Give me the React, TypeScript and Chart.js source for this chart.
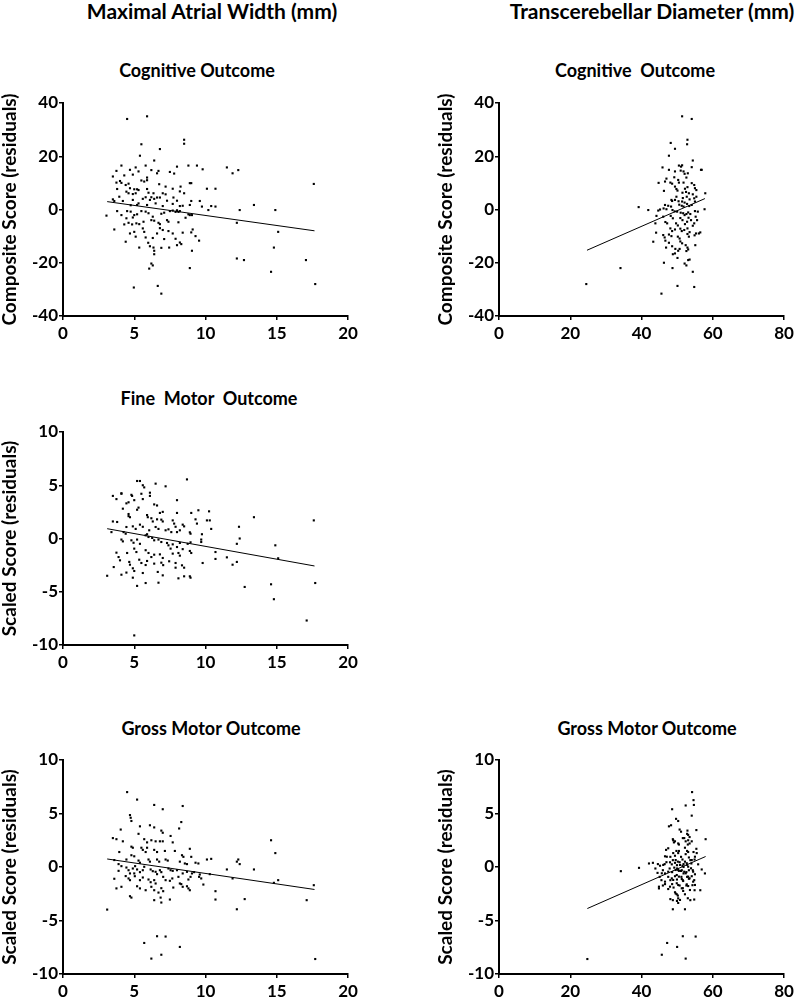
import React, { useEffect, useRef } from 'react';
import { Chart, registerables } from 'chart.js';

Chart.register(...registerables);

type Pt = [number, number];

// ---------- DATA ----------
const cognitiveVsAtrial: Pt[] = [
  [4.5,34],[5.9,35],[8.5,26.2],[8.5,24.7],[5.5,24.5],[6.8,22.7],[5.4,20.2],[6.4,18.4],[4.1,16.5],[5.1,15.8],[5.8,16.5],[8.0,16.1],[8.8,16.5],[9.4,16.5],[11.5,15.8],[11.9,13.6],[12.3,14.8],[9.8,15.1],[3.75,14.5],[4.7,14.9],[5.3,14.3],[6.2,14.8],[6.7,14.5],[7.5,14.1],[7.8,13.5],[3.5,12.4],[4.3,12.8],[4.9,13.1],[5.5,10.9],[5.7,10.5],[5.9,11],[5.9,12],[6.6,13.6],[4.0,10.7],[4.1,10],[4.6,9.7],[3.75,10.1],[4.4,9.2],[4.7,8],[5.0,7.6],[5.2,7.6],[6.75,9.5],[7.2,8.6],[7.7,7.8],[8.25,8.6],[8.9,9.9],[9.0,9.9],[10.1,7.8],[10.7,7.8],[3.8,7.7],[4.45,6.7],[4.6,6.1],[4.9,5.8],[5.1,6.1],[5.3,7.3],[5.9,7.7],[6.35,6.1],[7.0,6.1],[6.0,6.3],[6.6,4.5],[6.8,4.5],[7.2,5.7],[8.2,6.8],[8.5,6.1],[5.8,4.6],[3.95,4.8],[6.2,4.6],[7.3,3.3],[7.75,4.5],[3.5,3.8],[3.6,3.2],[4.2,3.2],[4.9,3.6],[5.6,4.0],[6.1,3.6],[6.4,4.0],[8.0,3.3],[9.0,3.2],[9.6,3.2],[10.7,1.1],[10.4,1.3],[13.4,1.7],[4.75,1.6],[5.2,1.7],[5.3,2.3],[5.9,1.7],[6.5,2.3],[7.0,1.3],[7.7,2.1],[8.2,1.3],[8.4,1.4],[8.9,1.7],[9.75,1.1],[10.2,-0.2],[12.4,-0.2],[14.9,-0.2],[3.05,-2.3],[3.8,-0.6],[4.5,-0.6],[4.75,-0.8],[5.0,-2.1],[5.2,-1.8],[4.9,-3],[5.5,-0.6],[5.8,-0.8],[6.0,-1.4],[6.3,-2.7],[6.9,-1.6],[7.1,-1.2],[7.5,-0.6],[7.7,-0.4],[7.9,-0.9],[8.0,-0.3],[8.1,-0.9],[8.2,-0.6],[8.8,-1.8],[8.9,-2.1],[9.05,-2.1],[4.45,-3.3],[4.1,-2.1],[3.6,-7.5],[4.3,-5.6],[4.6,-5],[4.85,-5.6],[5.15,-5.2],[5.35,-5.5],[5.65,-4.6],[6.2,-4],[6.4,-4.2],[6.7,-5],[6.8,-5.5],[7.3,-4],[7.4,-4.6],[8.1,-4.8],[8.6,-3.1],[12.2,-5],[4.7,-9],[5.0,-8.4],[5.6,-7.1],[5.7,-8.4],[6.6,-9],[6.8,-7],[7.0,-7.7],[7.4,-8.1],[7.7,-9],[8.4,-8.7],[9.1,-7.5],[9.0,-8.6],[15.1,-8.4],[5.1,-10.2],[5.8,-10.5],[6.3,-10.7],[7.1,-11.1],[7.9,-11],[8.2,-12.4],[8.3,-13],[8.0,-13.4],[9.3,-10],[4.4,-12.1],[5.35,-14.3],[5.98,-12.5],[6.1,-13.8],[6.35,-14.3],[6.9,-14.4],[7.45,-14.3],[9.55,-11.7],[6.4,-15.5],[6.4,-16.8],[9.05,-15.5],[14.8,-14.3],[6.2,-20.3],[6.3,-21],[6.05,-22.2],[8.9,-22],[12.2,-18.4],[12.7,-19],[17.05,-19],[14.6,-23.4],[4.97,-29.3],[6.65,-28.7],[6.9,-31.6],[17.7,-28],[17.6,9.6],
];
const cognitiveAtrialFit: Pt[] = [[3.1, 2.96], [17.65, -8.0]];

const cognitiveVsTcd: Pt[] = [
  [51.4,35],[54.1,34],[52.9,26.2],[52.8,24.5],[48.2,25],[49.4,22.8],[47.7,20.2],[54.4,18.4],[45.9,15.8],[50.5,16.5],[51.1,16.1],[51.4,16.6],[54.1,15.9],[56.7,14.9],[47.7,14.9],[49.4,14.3],[51,14.6],[51.8,14.3],[52.1,13.4],[53,13.6],[52.6,12],[49.2,12.1],[47,11.6],[46.6,10.5],[50.3,11.1],[50.5,10.1],[44.8,10],[48.1,10.1],[48.6,9.7],[51.8,10.1],[54.1,9.9],[54.8,9.2],[49.4,8.6],[49.8,7.7],[50.1,7.1],[46.3,7],[52.2,7.8],[52.9,8.4],[55,8],[55.4,7.3],[51.5,6.3],[52.5,6.6],[53.3,6.1],[54.4,5.7],[57.9,6.1],[49.8,4.8],[49.4,3.6],[50.4,3.1],[51.6,4.3],[52.7,4.8],[53.5,3.8],[54.8,4.2],[55.4,4.8],[48.4,3.6],[48.6,3.2],[51.4,3],[52.1,2.6],[55,3],[46.6,1.7],[47.5,1.4],[48.3,1.1],[50.6,1.8],[51.3,1.4],[51.8,1.1],[52.8,2.1],[53.4,1.3],[54.1,1.7],[39.2,0.9],[41.9,-0.2],[44.7,-0.4],[45.2,0],[46.2,0.4],[47,0.1],[48.7,-0.2],[49.3,-0.7],[50,-0.8],[51,-1.2],[51.7,-1.4],[52.1,-2.1],[52.6,-1.7],[53.1,-1.1],[53.7,-1.7],[55,-0.6],[55.8,-0.8],[57.7,0.1],[44.2,-2.4],[46.1,-2.7],[48.2,-2.4],[48.8,-3.3],[50.9,-3.2],[51.5,-4],[53.2,-3.1],[53.9,-4],[55.2,-2.7],[55.6,-4],[43.9,-5.2],[46.7,-4.7],[47.2,-5.2],[49.7,-5.2],[50.2,-6],[52.2,-5.5],[52.8,-4.6],[54.4,-6.1],[54.8,-5.2],[49.4,-7.5],[48.6,-8.1],[48.1,-7.1],[50.9,-7.2],[51.3,-8.1],[52,-7.7],[52.9,-7.1],[53.5,-8.5],[56.5,-8.6],[56.1,-9],[44.1,-8.7],[46.1,-9.6],[46.5,-10.5],[47.7,-9.4],[48.4,-10],[50.2,-10.2],[50.7,-10.9],[52.9,-9.2],[53.3,-10.2],[54.9,-9.7],[55.3,-9],[43.3,-12.1],[46.7,-11.7],[47.7,-12.5],[50.9,-12],[51.4,-12.7],[52.4,-13.4],[52.9,-14.3],[55.1,-13.4],[46.9,-14.3],[48.6,-13.8],[49.5,-14.8],[50.3,-15.5],[50.7,-14.8],[53.1,-15],[52.6,-15.6],[48.8,-16.8],[49.4,-16.5],[50.1,-18.2],[53.1,-19],[53.5,-18.8],[52.1,-20.3],[52.6,-21],[46.3,-20],[48.7,-22],[34.1,-22],[54.4,-23.4],[50.1,-28.7],[54.8,-29.1],[24.5,-28],[45.6,-31.6],[56.9,14.9],
];
const cognitiveTcdFit: Pt[] = [[24.7, -15.3], [57.8, 4.1]];

const fineMotorVsAtrial: Pt[] = [
  [8.7,5.55],[5.4,5.4],[5.2,5.4],[5.6,5.0],[5.7,4.8],[6.5,5.15],[7.2,4.9],[3.5,4.0],[4.1,4.2],[4.1,4.25],[4.8,4.1],[4.85,4.0],[5.5,4.2],[5.6,3.7],[6.1,4.3],[6.1,4.0],[3.75,3.7],[5.0,3.6],[6.4,3.2],[6.6,3.1],[4.45,3.3],[4.6,3.4],[8.0,3.6],[4.2,2.8],[5.2,2.7],[5.3,2.9],[7.0,2.5],[6.8,2.4],[10.25,2.55],[9.5,2.65],[9.0,2.4],[13.4,2.0],[4.6,2.3],[4.6,2.1],[4.7,2.0],[5.9,2.2],[5.95,2.0],[6.6,1.8],[6.9,1.77],[7.0,1.6],[7.7,1.7],[8.0,2.4],[6.2,1.9],[6.3,1.6],[7.8,1.4],[7.9,1.1],[8.4,1.3],[8.5,1.14],[9.3,1.8],[9.4,1.4],[10.1,1.7],[10.3,1.7],[10.4,0.9],[12.35,1.1],[17.6,1.7],[3.5,1.6],[3.8,1.55],[4.45,1.08],[4.9,1.14],[5.1,0.9],[5.4,1.3],[5.6,1.1],[6.05,0.77],[6.5,1.08],[6.7,0.9],[7.2,0.77],[7.4,0.86],[7.6,0.6],[8.0,0.6],[8.2,0.77],[8.9,0.58],[8.95,0.45],[9.75,0.4],[3.4,0.6],[4.25,0.6],[4.4,0.45],[4.2,-0.27],[4.1,-0.1],[4.8,-0.17],[4.95,-0.4],[5.2,-0.1],[5.4,-0.5],[5.8,0.3],[5.9,0.4],[6.0,0.14],[6.26,0.05],[6.4,-0.17],[6.7,-0.1],[6.9,-0.33],[7.3,-0.42],[7.4,-0.64],[7.7,-0.55],[8.0,-0.8],[8.2,-0.42],[8.4,-1.0],[8.75,-0.5],[8.95,-0.36],[9.7,-0.33],[9.7,-0.1],[12.2,-0.5],[12.4,0],[14.9,-0.64],[3.75,-1.33],[3.9,-1.74],[4.5,-1.36],[5.0,-0.95],[5.15,-1.27],[5.8,-1.1],[6.0,-1.36],[6.2,-1.74],[6.4,-1.52],[6.8,-1.49],[7.0,-1.83],[7.55,-0.95],[7.7,-1.42],[8.1,-1.36],[8.2,-1.61],[8.9,-1.17],[9.0,-1.36],[10.7,-1.27],[10.7,-1.92],[11.5,-1.77],[15.1,-1.86],[4.0,-2.05],[4.65,-2.2],[4.7,-2.46],[5.35,-1.99],[5.5,-2.3],[5.8,-2.49],[5.9,-2.11],[6.4,-2.36],[6.9,-2.27],[7.03,-2.5],[7.45,-2.14],[7.9,-2.3],[7.9,-2.74],[8.35,-2.52],[8.5,-2.74],[9.8,-2.3],[11.9,-2.46],[12.2,-2.2],[3.56,-2.68],[3.1,-3.5],[4.1,-3.4],[4.45,-3.2],[4.9,-2.8],[5.0,-3.05],[4.9,-3.68],[5.6,-3.24],[6.65,-3.14],[7.0,-3.46],[8.1,-3.74],[8.5,-3.55],[8.9,-3.55],[8.95,-3.68],[5.2,-4.45],[5.8,-4.18],[6.7,-4.15],[12.75,-4.55],[14.6,-4.3],[14.8,-5.7],[17.1,-7.7],[17.7,-4.18],[5.0,-9.1],
];
const fineMotorAtrialFit: Pt[] = [[3.1, 0.92], [17.65, -2.58]];

const grossMotorVsAtrial: Pt[] = [
  [4.5,7.0],[5.2,6.3],[6.4,5.8],[7.0,5.4],[8.4,5.7],[4.7,4.85],[4.75,4.6],[4.8,4.3],[8.3,4.2],[5.4,3.8],[6.1,3.9],[6.4,3.7],[4.05,3.5],[6.9,3.4],[7.0,3.2],[8.15,3.6],[7.55,2.9],[3.5,2.7],[3.75,2.6],[4.2,2.4],[5.3,3.1],[5.7,2.6],[5.9,2.3],[6.2,2.5],[6.5,2.4],[6.8,2.4],[7.0,2.4],[7.7,2.3],[8.9,1.7],[14.6,2.5],[14.9,1.3],[3.95,1.4],[4.8,1.9],[4.9,1.8],[5.5,1.8],[5.6,1.6],[5.9,1.8],[5.8,1.4],[6.4,1.6],[6.6,1.4],[7.15,1.5],[7.85,1.5],[8.35,1.1],[8.45,0.95],[9.0,0.95],[4.8,1.1],[5.0,1.0],[4.45,0.7],[3.6,0.65],[5.3,0.6],[5.4,0.4],[6.0,0.7],[6.1,0.5],[6.6,0.7],[6.75,0.5],[7.2,0.7],[7.35,0.6],[8.2,0.5],[8.55,0.33],[8.7,0.27],[9.3,0.4],[9.5,0.33],[10.1,0.7],[10.4,0.76],[12.2,0.5],[12.4,0.27],[12.3,0.7],[13.4,-0.23],[11.5,-0.23],[3.9,0.27],[4.1,0.08],[3.9,-0.36],[4.45,-0.05],[4.6,-0.3],[4.7,-0.6],[4.9,-0.14],[5.06,0.08],[5.0,-0.6],[5.2,-0.23],[5.4,-0.48],[5.6,-0.3],[5.7,0.02],[6.15,-0.23],[6.3,-0.39],[6.5,-0.45],[6.6,-0.67],[6.8,-0.3],[6.9,-0.48],[7.4,-0.14],[7.55,-0.3],[7.7,-0.36],[8.0,-0.3],[8.4,-0.6],[8.7,-0.45],[9.05,-0.6],[9.2,-0.48],[9.6,-0.7],[9.7,-1.07],[10.3,-0.67],[4.4,-0.85],[4.6,-1.07],[4.7,-1.23],[5.04,-0.86],[5.4,-1.23],[5.6,-0.98],[6.0,-1.17],[6.15,-1.42],[6.4,-1.23],[6.5,-1.54],[7.03,-0.92],[7.2,-1.23],[7.5,-1.29],[7.67,-1.07],[8.1,-0.92],[8.2,-1.54],[8.8,-1.17],[8.95,-0.92],[9.55,-0.92],[11.9,-1.07],[15.1,-1.23],[14.8,-1.48],[17.6,-1.7],[3.6,-1.1],[3.75,-2.0],[4.1,-1.85],[5.2,-1.8],[5.4,-2.0],[5.8,-2.17],[6.2,-1.85],[6.4,-2.17],[6.9,-1.98],[7.03,-2.26],[7.74,-1.92],[8.3,-1.6],[8.4,-1.85],[8.7,-1.8],[8.8,-2.0],[8.9,-2.17],[9.85,-1.64],[10.7,-2.26],[4.7,-2.73],[4.8,-2.86],[6.7,-2.39],[6.85,-2.86],[6.4,-3.1],[6.9,-3.32],[7.5,-3.04],[10.7,-3.04],[12.75,-3.0],[17.1,-3.1],[3.1,-3.98],[12.2,-3.95],[5.7,-7.1],[6.6,-6.47],[7.2,-6.5],[8.2,-7.47],[6.2,-8.56],[6.9,-8.2],[17.7,-8.6],
];
const grossMotorAtrialFit: Pt[] = [[3.1, 0.75], [17.65, -2.1]];

const grossMotorVsTcd: Pt[] = [
  [54.2,7.0],[54.6,6.25],[54.7,5.8],[52.4,5.75],[54.1,4.8],[48.6,5.4],[49.7,4.5],[50.3,4.3],[47.7,3.8],[48.3,3.9],[50.7,3.5],[51.1,3.3],[52.9,3.4],[52.8,3.1],[55.4,3.45],[58,2.6],[48.8,2.6],[49.1,2.3],[51.6,2.7],[52.4,2.4],[53.1,2.5],[53.5,2.2],[50.5,2.1],[46.9,1.6],[49.8,1.5],[50.3,1.3],[52.2,1.8],[52.8,1.5],[54.6,1.4],[55.4,1.7],[55.5,1.3],[46.6,1.0],[48.1,0.95],[48.8,0.64],[51.1,0.95],[51.5,0.7],[53.3,0.89],[53.7,0.64],[54.9,0.7],[42.1,0.33],[43.2,0.39],[44.6,0.27],[46.5,0.27],[47,0.45],[49.4,0.39],[49.95,0.17],[50.7,0.45],[51.8,0.27],[52.8,0.2],[54,0.33],[34.2,-0.39],[39.3,-0.08],[43.9,-0.14],[44.5,-0.55],[46.0,-0.3],[46.6,-0.6],[47.9,-0.14],[48.6,-0.48],[50,-0.14],[50.5,-0.36],[51.3,-0.3],[51.8,-0.6],[52.6,-0.48],[53.3,-0.3],[54.4,-0.3],[56.9,-0.23],[57.8,-0.6],[45.1,-0.92],[45.6,-1.23],[47.5,-0.92],[48.1,-1.23],[49.4,-0.86],[49.95,-1.17],[51.2,-0.92],[51.6,-1.23],[52.8,-0.92],[53.3,-1.1],[54.1,-0.86],[54.8,-1.23],[46.0,-1.73],[46.6,-1.6],[44.9,-2.0],[48.6,-1.6],[49.0,-1.92],[50.7,-1.73],[51.6,-1.98],[52.6,-1.73],[54.3,-1.7],[54.9,-2.17],[56.5,-2.17],[49.6,-2.48],[50.2,-2.67],[48.1,-3.0],[48.8,-3.1],[49.95,-3.17],[50.3,-3.36],[53.0,-2.92],[53.7,-3.1],[54.8,-3.04],[48.8,-3.95],[52.2,-3.95],[51.6,-6.47],[55.2,-6.5],[47.2,-7.1],[50.0,-7.47],[45.7,-8.2],[52.4,-8.56],[24.8,-8.6],
  [53.1,3.0],[53.5,2.8],[52.0,2.7],[48.9,2.5],[49.4,2.4],[50.3,2.2],[54.1,2.4],[53.0,2.1],[47.5,1.75],[50.5,1.5],[53.1,1.4],[52.4,1.2],[48.9,1.3],[49.4,1.05],[47.1,0.96],[55.0,0.96],[54.1,0.65],[49.6,0.65],[50.2,0.5],[52.2,0.5],[52.7,0.35],[48.0,0.44],[48.5,0.25],[50.8,0.19],[51.5,0.12],[51.8,0],[55.9,0.25],[46.1,0.19],[45.2,0.12],[53.1,0.03],[53.9,-0.12],[49.2,-0.06],[49.6,-0.28],[50.3,-0.28],[51.1,-0.37],[52.0,-0.44],[52.4,-0.59],[47.5,-0.44],[45.7,-0.59],[54.5,-0.44],[55.0,-0.68],[49.9,-0.75],[50.5,-0.9],[53.1,-0.9],[53.5,-1.06],[48.5,-1.06],[48.9,-1.21],[51.3,-1.12],[51.7,-1.31],[54.5,-1.37],[46.6,-1.37],[49.9,-1.52],[50.3,-1.68],[52.7,-1.62],[53.1,-1.78],[55.0,-1.68],[48.0,-1.84],[47.5,-2.06],[51.3,-1.99],[51.7,-2.24],[53.6,-2.15],[49.4,-2.36],[49.9,-2.55],[52.2,-2.55],[44.9,-1.84],[50.3,-2.93],[50.8,-3.08],
];
const grossMotorTcdFit: Pt[] = [[24.8, -3.88], [58.0, 0.98]];

const headers = ['Maximal Atrial Width (mm)', 'Transcerebellar Diameter (mm)'];
const atrialTicks = { min: 0, max: 20, step: 5 };
const tcdTicks = { min: 0, max: 80, step: 20 };
const compositeTicks = { min: -40, max: 40, step: 20 };
const scaledTicks = { min: -10, max: 10, step: 5 };

// ---------- LAYOUT ----------
const FONT = 'Lato, "Open Sans", sans-serif';
const Y_AXIS_W = 63;
const TOP_PAD = 40;
const X_AXIS_H = 34;
const CANVAS_W = 362;

interface PanelSpec {
  title: string;
  yTitle: string;
  points: Pt[];
  fit: Pt[];
  xr: { min: number; max: number; step: number };
  yr: { min: number; max: number; step: number };
  plot: { left: number; top: number; right: number; bottom: number };
  titlePos: [number, number];
}

const panels: PanelSpec[] = [
  { title: 'Cognitive Outcome', yTitle: 'Composite Score (residuals)', points: cognitiveVsAtrial, fit: cognitiveAtrialFit, xr: atrialTicks, yr: compositeTicks, plot: { left: 63, top: 103, right: 348, bottom: 316 }, titlePos: [197, 70] },
  { title: 'Cognitive  Outcome', yTitle: 'Composite Score (residuals)', points: cognitiveVsTcd, fit: cognitiveTcdFit, xr: tcdTicks, yr: compositeTicks, plot: { left: 499, top: 103, right: 784, bottom: 316 }, titlePos: [635, 70] },
  { title: 'Fine  Motor  Outcome', yTitle: 'Scaled Score (residuals)', points: fineMotorVsAtrial, fit: fineMotorAtrialFit, xr: atrialTicks, yr: scaledTicks, plot: { left: 63, top: 432, right: 348, bottom: 645 }, titlePos: [209, 398] },
  { title: 'Gross Motor Outcome', yTitle: 'Scaled Score (residuals)', points: grossMotorVsAtrial, fit: grossMotorAtrialFit, xr: atrialTicks, yr: scaledTicks, plot: { left: 63, top: 760, right: 348, bottom: 974 }, titlePos: [211, 728] },
  { title: 'Gross Motor Outcome', yTitle: 'Scaled Score (residuals)', points: grossMotorVsTcd, fit: grossMotorTcdFit, xr: tcdTicks, yr: scaledTicks, plot: { left: 499, top: 760, right: 784, bottom: 974 }, titlePos: [647, 728] },
];

function Panel({ spec }: { spec: PanelSpec }) {
  const ref = useRef<HTMLCanvasElement>(null);
  const cLeft = spec.plot.left - Y_AXIS_W;
  const cTop = spec.plot.top - TOP_PAD;
  const plotH = spec.plot.bottom - spec.plot.top;
  const H = TOP_PAD + plotH + X_AXIS_H;
  const rightPad = CANVAS_W - (spec.plot.right - cLeft);

  useEffect(() => {
    if (!ref.current) return;
    const tickFont = { family: FONT, size: 17, weight: 'bold' as const };
    const chart = new Chart(ref.current, {
      type: 'scatter',
      data: {
        datasets: [
          {
            data: spec.points.map(([x, y]) => ({ x, y })),
            pointStyle: 'rect',
            pointRadius: 1.5,
            pointBackgroundColor: '#000',
            pointBorderWidth: 0,
            backgroundColor: '#000',
            borderColor: '#000',
          },
          {
            data: spec.fit.map(([x, y]) => ({ x, y })),
            showLine: true,
            pointRadius: 0,
            borderColor: '#000',
            borderWidth: 1,
            fill: false,
          },
        ],
      },
      options: {
        animation: false,
        responsive: false,
        maintainAspectRatio: false,
        events: [],
        layout: { padding: { left: 0, top: TOP_PAD, right: rightPad, bottom: 0 } },
        plugins: { legend: { display: false }, tooltip: { enabled: false }, title: { display: false } },
        scales: {
          x: {
            type: 'linear',
            min: spec.xr.min,
            max: spec.xr.max,
            ticks: { stepSize: spec.xr.step, color: '#000', font: tickFont, padding: 3, maxRotation: 0 },
            grid: { drawOnChartArea: false, drawTicks: true, tickLength: 4, color: '#000', lineWidth: 1.5 },
            border: { display: true, color: '#000', width: 2 },
            afterFit: (s: any) => { s.height = X_AXIS_H; },
          },
          y: {
            type: 'linear',
            min: spec.yr.min,
            max: spec.yr.max,
            ticks: { stepSize: spec.yr.step, color: '#000', font: tickFont, padding: 1 },
            grid: { drawOnChartArea: false, drawTicks: true, tickLength: 4, color: '#000', lineWidth: 1.5 },
            border: { display: true, color: '#000', width: 2 },
            title: { display: true, text: spec.yTitle, color: '#000', font: { family: FONT, size: 19, weight: 'bold', lineHeight: 1 }, padding: 0 },
            afterFit: (s: any) => { s.width = Y_AXIS_W; },
          },
        },
      },
    });
    return () => chart.destroy();
  }, []);

  return (
    <canvas
      ref={ref}
      width={CANVAS_W}
      height={H}
      style={{ position: 'absolute', left: cLeft, top: cTop, width: CANVAS_W, height: H }}
    />
  );
}

const textStyle = (cx: number, cy: number, size: number): React.CSSProperties => ({
  position: 'absolute',
  left: cx,
  top: cy,
  transform: 'translate(-50%, -50%)',
  fontFamily: FONT,
  fontWeight: 700,
  fontSize: size,
  lineHeight: 1,
  whiteSpace: 'pre',
  color: '#000',
});

export default function App() {
  return (
    <div style={{ position: 'absolute', left: 0, top: 0, width: 799, height: 1002, overflow: 'hidden', background: '#fff' }}>
      <div style={textStyle(212, 10, 21)}>{headers[0]}</div>
      <div style={textStyle(652, 10, 21)}>{headers[1]}</div>
      {panels.map((p, i) => (
        <React.Fragment key={i}>
          <div style={textStyle(p.titlePos[0], p.titlePos[1], 18)}>{p.title}</div>
          <Panel spec={p} />
        </React.Fragment>
      ))}
    </div>
  );
}
